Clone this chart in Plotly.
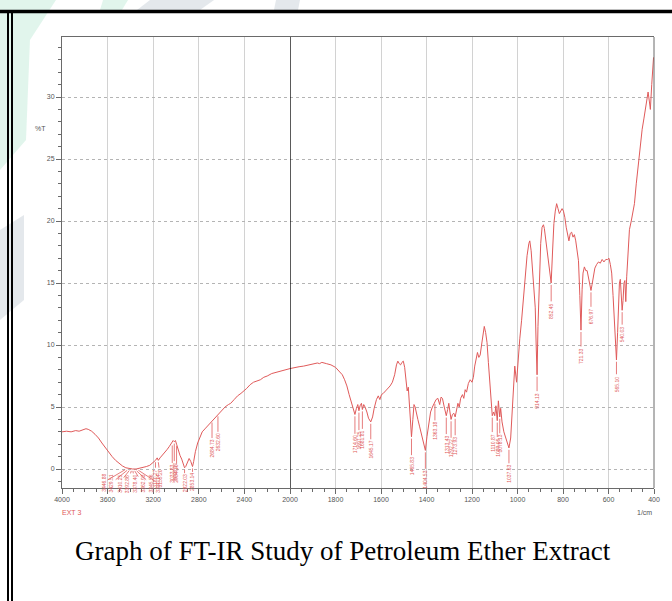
import plotly.graph_objects as go

# ---------------- data ----------------
wn_left = [4000, 3960, 3920, 3880, 3850, 3820, 3790, 3770, 3740, 3710, 3680, 3650, 3620, 3590,
           3560, 3530, 3500, 3470, 3440, 3410, 3380, 3350, 3320, 3290, 3260, 3230, 3200, 3180,
           3165, 3155, 3140, 3120, 3100, 3080, 3060, 3040, 3025, 3015, 3005, 2995, 2980, 2965,
           2950, 2935, 2925, 2915, 2900, 2885, 2870, 2855, 2845, 2830, 2810, 2790, 2770, 2740,
           2710, 2684, 2660, 2632, 2600, 2570, 2540, 2520, 2490, 2460, 2430, 2400, 2380, 2350,
           2320, 2290, 2260, 2230, 2200, 2160, 2120, 2080, 2040, 2000]
t_left = [3.0, 3.05, 3.0, 3.1, 3.05, 3.15, 3.25, 3.2, 3.05, 2.8, 2.5, 2.1, 1.7, 1.35,
          1.0, 0.7, 0.45, 0.25, 0.1, 0.03, 0.0, 0.0, 0.05, 0.1, 0.2, 0.3, 0.5, 0.7,
          0.9, 0.7, 0.9, 1.1, 1.3, 1.55, 1.8, 2.05, 2.3, 2.2, 2.3, 2.0, 1.5, 1.1,
          0.8, 0.4, 0.1, 0.2, 0.5, 0.85, 0.6, 0.2, 0.6, 1.4, 2.1, 2.6, 3.0, 3.3,
          3.6, 3.9, 4.1, 4.4, 4.7, 5.0, 5.2, 5.3, 5.6, 5.9, 6.1, 6.3, 6.5, 6.8,
          7.0, 7.1, 7.2, 7.4, 7.5, 7.7, 7.8, 7.95, 8.05, 8.1]

wn_right = [2000, 1980, 1960, 1940, 1920, 1900, 1880, 1870, 1860, 1840, 1820, 1800, 1790, 1780,
            1770, 1760, 1750, 1740, 1730, 1722, 1714.6, 1708, 1702, 1697, 1692, 1686, 1681.8,
            1676, 1670, 1662, 1655, 1645, 1637, 1630, 1620, 1612, 1605, 1598, 1590, 1580, 1570,
            1560, 1550, 1540, 1532, 1526, 1520, 1514, 1508, 1502, 1496, 1490, 1485, 1480, 1475,
            1470, 1466, 1460, 1455, 1450, 1444, 1438, 1430, 1420, 1412, 1405, 1398, 1390, 1382,
            1374, 1366, 1358, 1350, 1342, 1336, 1330, 1322, 1313, 1307, 1302, 1297, 1292, 1286,
            1280, 1274, 1268, 1262, 1256, 1250, 1242, 1236, 1230, 1224, 1216, 1208, 1200, 1194,
            1188, 1182, 1176, 1170, 1164, 1158, 1152, 1146, 1140, 1134, 1128, 1122, 1116, 1110.9,
            1105, 1100, 1095, 1089, 1084, 1080, 1078, 1074, 1068, 1060, 1052, 1045, 1037.6, 1030,
            1024, 1018, 1012, 1004, 998, 990, 982, 974, 966, 958, 950, 946, 940, 934, 928, 922,
            918, 914, 910, 904, 898, 892, 886, 882, 876, 870, 862, 856, 852, 846, 840, 834, 828,
            822, 816, 810, 804, 798, 792, 786, 780, 774, 768, 762, 756, 750, 744, 738, 732, 726,
            721, 716, 712, 706, 700, 694, 688, 682, 677, 672, 666, 660, 652, 644, 636, 628, 620,
            612, 604, 598, 592, 586, 580, 574, 570, 565, 560, 556, 552, 548, 544, 540, 536, 532,
            528, 524, 520, 514, 508, 500, 492, 486, 478, 470, 460, 452, 444, 436, 430, 426, 420,
            416, 410, 405, 402]
t_right = [8.1, 8.2, 8.25, 8.3, 8.4, 8.45, 8.55, 8.5, 8.6, 8.5, 8.4, 8.2, 8.0, 7.8,
           7.6, 7.2, 6.7, 6.0, 5.3, 4.9, 4.4, 4.9, 5.2, 4.7, 5.1, 5.3, 4.8,
           5.2, 5.0, 4.6, 4.1, 3.8, 4.2, 4.9, 5.6, 5.9, 5.6, 6.0, 6.1, 6.3, 6.5,
           6.7, 7.0, 7.6, 8.4, 8.7, 8.5, 8.4, 8.6, 8.7, 8.2, 6.8, 6.3, 6.6, 5.4,
           4.0, 2.6, 4.0, 5.2, 5.0, 4.6, 4.0, 3.4, 2.6, 2.0, 1.5, 2.6, 3.8, 4.6,
           5.0, 5.3, 5.6, 5.7, 5.2, 5.8, 5.7, 5.0, 4.3, 4.8, 5.3, 4.6, 4.0, 4.4,
           4.5, 4.2, 4.8, 5.3, 5.0, 5.7, 6.0, 5.7, 6.4, 6.2, 6.9, 7.2, 7.0, 7.4,
           8.3, 9.0, 9.4, 9.0, 9.2, 10.0, 10.8, 11.5, 11.0, 10.2, 8.6, 7.0, 5.5, 4.3,
           4.6, 4.3, 5.1, 3.9, 5.5, 4.6, 4.2, 4.9, 3.8, 3.0, 2.5, 2.0, 1.7, 2.5,
           4.5, 6.6, 8.3, 7.0, 8.8, 10.5, 12.0, 13.8, 15.6, 17.2, 18.2, 18.4, 17.6, 16.0, 14.6, 13.0,
           10.0, 7.6, 11.5, 15.5, 18.2, 19.5, 19.7, 19.4, 18.6, 17.6, 16.6, 15.8, 15.0, 17.5, 19.8, 20.8, 21.4,
           21.0, 20.6, 20.8, 21.0, 20.8, 20.3, 19.5, 18.8, 18.4, 19.0, 19.1, 18.7, 18.9, 18.4, 17.6, 16.8, 14.0,
           11.2, 14.5, 15.8, 16.3, 16.0, 16.0, 15.4, 14.7, 14.4, 14.9, 15.8, 16.2, 16.5, 16.7, 16.6, 16.9, 16.7,
           16.9, 16.9, 17.0, 16.5, 15.8, 14.0, 12.0, 10.5, 8.8, 11.0, 13.5, 15.0, 15.3, 14.0, 12.8, 13.6, 15.0,
           15.2, 13.5, 15.5, 18.0, 19.3, 20.0, 20.8, 21.4, 23.0, 24.5, 26.0, 27.4, 28.3, 29.2, 30.0, 30.4, 29.6,
           29.0, 31.0, 32.8, 33.2]

y_ticks = [0, 5, 10, 15, 20, 25, 30]
x_ticks_left = [4000, 3600, 3200, 2800, 2400]
x_ticks_right = [2000, 1800, 1600, 1400, 1200, 1000, 800, 600, 400]

# peak labels: (wavenumber, transmittance at tip, text, dx px, dy px)
peak_labels_left = [
    (3446, 0.1, "3446.88", -22, 13), (3428, 0.05, "3429.51", -16, 13), (3410, 0.03, "3410.25", -10, 13),
    (3392, 0.0, "3392.86", -4, 13), (3378, 0.0, "3378.40", 2, 13), (3362, 0.0, "3362.93", 8, 13),
    (3345, 0.0, "3345.56", 14, 13), (3330, 0.05, "3330.14", 20, 13),
    (3180, 0.7, "3180.27", 0, 16), (3155, 0.7, "3155.20", 2, 16),
    (3033, 2.05, "3033.83", 0, 28), (3015, 2.2, "3008.10", 0, 28), (2995, 2.0, "2954.10", 0, 28),
    (2925, 0.1, "2922.03", 0, 14), (2855, 0.2, "2853.14", 0, 14),
    (2684, 3.9, "2684.73", 0, 26), (2632, 4.4, "2632.60", 0, 26),
]
peak_labels_right = [
    (1714.6, 4.4, "1714.60", 0, 28), (1697, 4.7, "1697.25", 0, 28), (1681.8, 4.8, "1681.81", 0, 28),
    (1645, 3.8, "1645.17", 0, 26), (1466, 2.6, "1465.83", 0, 27), (1405, 1.5, "1404.53", 0, 27),
    (1363, 5.4, "1363.18", 0, 27), (1313, 4.3, "1313.43", 0, 27), (1292, 4.0, "1292.22", 0, 27),
    (1274, 4.2, "1273.93", 0, 27), (1110.9, 4.3, "1110.87", 0, 25), (1089, 3.9, "1089.06", 0, 25),
    (1078, 4.2, "1078.13", 0, 25), (1037.6, 1.7, "1037.63", 0, 24), (914, 7.6, "914.13", 0, 24),
    (852, 15.0, "852.45", 0, 26), (721, 11.2, "721.33", 0, 24), (677, 14.4, "676.97", 0, 24),
    (565, 8.8, "565.10", 0, 22), (540, 12.8, "540.03", 0, 22),
]

# ---------------- figure ----------------
W, H = 672, 601
RED = "#e05a5a"
GRID_Y = "#b4b4b4"
GRID_X = "#d2d2d2"
AX = "#6a6a6a"
SANS = "Liberation Sans Narrow, Liberation Sans, Arial"
TICKFONT = dict(family=SANS, size=7, color="#555")

px_l, px_b, px_r = 62, 290, 654
py_t, py_b = 37, 488
dom_x1 = [px_l / W, px_b / W]
dom_x2 = [px_b / W, px_r / W]
dom_y = [1 - py_b / H, 1 - py_t / H]

fig = go.Figure()
fig.add_trace(go.Scatter(x=wn_left, y=t_left, mode="lines", line=dict(color=RED, width=1),
                         xaxis="x", yaxis="y", showlegend=False, hoverinfo="skip"))
fig.add_trace(go.Scatter(x=wn_right, y=t_right, mode="lines", line=dict(color=RED, width=1),
                         xaxis="x2", yaxis="y", showlegend=False, hoverinfo="skip"))

common_x = dict(showline=True, linecolor=AX, linewidth=1, mirror=True, automargin=False,
                ticks="outside", ticklen=5, tickcolor=AX, tickfont=TICKFONT,
                showgrid=True, gridcolor=GRID_X, gridwidth=1,
                zeroline=False, anchor="y")

fig.update_layout(
    template="none",
    width=W, height=H, margin=dict(l=0, r=0, t=0, b=0, autoexpand=False),
    paper_bgcolor="white", plot_bgcolor="rgba(0,0,0,0)",
    xaxis=dict(domain=dom_x1, range=[4000, 2000], tickmode="array", tickvals=x_ticks_left,
               minor=dict(dtick=100, tick0=0, ticks="outside", ticklen=3, tickcolor=AX, showgrid=False),
               **common_x),
    xaxis2=dict(domain=dom_x2, range=[2000, 400], tickmode="array", tickvals=x_ticks_right,
                minor=dict(dtick=50, tick0=0, ticks="outside", ticklen=3, tickcolor=AX, showgrid=False),
                **common_x),
    yaxis=dict(domain=dom_y, range=[-1.53, 34.84], tickmode="array", tickvals=y_ticks,
               automargin=False,
               showline=True, linecolor=AX, linewidth=1, ticks="outside", ticklen=5, tickcolor=AX,
               tickfont=TICKFONT, minor=dict(dtick=1, tick0=0, ticks="outside", ticklen=3,
                                             tickcolor=AX, showgrid=False),
               showgrid=True, gridcolor=GRID_Y, griddash="dot", gridwidth=1, zeroline=False, anchor="x"),
)


def ppath(pts):
    """Closed SVG path in paper coords from page pixel points."""
    s = "M " + " L ".join(f"{x / W:.4f},{1 - y / H:.4f}" for x, y in pts) + " Z"
    return s


MINT = "rgba(200,236,220,0.55)"
GREY = "rgba(205,214,220,0.55)"
watermark = [
    (ppath([(0, 0), (56, 0), (30, 40), (26, 140), (0, 170)]), MINT),
    (ppath([(103, 0), (128, 0), (122, 10), (100, 10)]), MINT),
    (ppath([(150, 0), (214, 0), (200, 10), (137, 10)]), GREY),
    (ppath([(276, 0), (300, 0), (298, 10), (274, 10)]), GREY),
    (ppath([(0, 230), (24, 215), (24, 300), (0, 320)]), GREY),
]

shapes = [dict(type="path", xref="paper", yref="paper", path=p, fillcolor=c,
               line=dict(width=0), layer="below") for p, c in watermark]
shapes += [
    # white plot area over the watermark
    dict(type="rect", xref="paper", yref="paper", x0=px_l / W, x1=px_r / W, y0=dom_y[0], y1=dom_y[1],
         fillcolor="white", line=dict(width=0), layer="below"),
    # right frame border
    dict(type="line", xref="paper", yref="paper", x0=px_r / W, x1=px_r / W, y0=dom_y[0], y1=dom_y[1],
         line=dict(color=AX, width=1)),
    # black divider at 2000
    dict(type="line", xref="x2", yref="y domain", x0=2000, x1=2000, y0=0, y1=1,
         line=dict(color="black", width=1.3)),
    # page border: thick top rule, double left rule
    dict(type="line", xref="paper", yref="paper", x0=0, x1=1, y0=1 - 11.5 / H, y1=1 - 11.5 / H,
         line=dict(color="black", width=3.5)),
    dict(type="line", xref="paper", yref="paper", x0=8 / W, x1=8 / W, y0=0, y1=1 - 10 / H,
         line=dict(color="black", width=2)),
    dict(type="line", xref="paper", yref="paper", x0=12 / W, x1=12 / W, y0=0, y1=1 - 13 / H,
         line=dict(color="black", width=2)),
]

annotations = []
for labels, xr in ((peak_labels_left, "x"), (peak_labels_right, "x2")):
    for wn, t, txt, dx, dy in labels:
        annotations.append(dict(x=wn, y=t - 0.15, xref=xr, yref="y", text=txt, textangle=-90,
                                showarrow=True, arrowhead=0, arrowwidth=0.8, arrowcolor=RED,
                                ax=dx, ay=dy, font=dict(size=5, color=RED, family=SANS)))

annotations += [
    dict(x=48 / W, y=1 - 128 / H, xref="paper", yref="paper", text="%T", showarrow=False,
         font=TICKFONT, xanchor="right", yanchor="middle"),
    dict(x=60 / W, y=1 - 512 / H, xref="paper", yref="paper", text="EXT 3", showarrow=False,
         font=dict(size=7, color=RED, family=SANS), xanchor="left", yanchor="middle"),
    dict(x=654 / W, y=1 - 512 / H, xref="paper", yref="paper", text="1/cm", showarrow=False,
         font=TICKFONT, xanchor="right", yanchor="middle"),
    dict(x=343 / W, y=1 - 551 / H, xref="paper", yref="paper",
         text="Graph of FT-IR Study of Petroleum Ether Extract", showarrow=False,
         font=dict(size=27, color="black", family="Liberation Serif, Times New Roman, serif"),
         xanchor="center", yanchor="middle"),
]

fig.update_layout(shapes=shapes, annotations=annotations)
fig.write_html("out.html")
